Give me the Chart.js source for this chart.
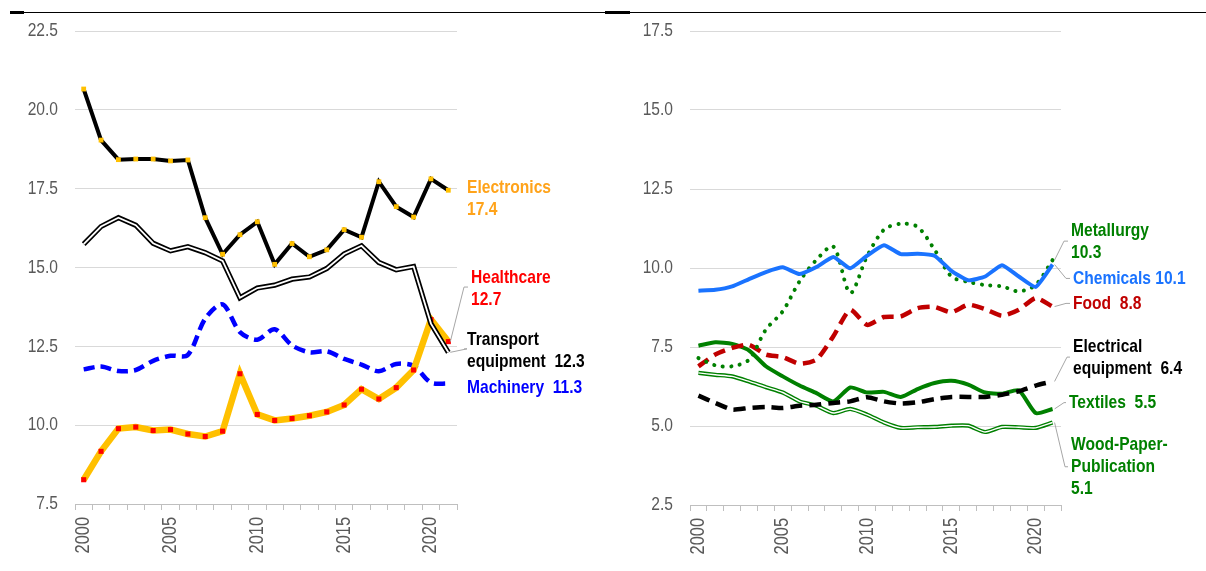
<!DOCTYPE html>
<html>
<head>
<meta charset="utf-8">
<script src="https://cdn.jsdelivr.net/npm/chart.js@4/dist/chart.umd.min.js"></script>
<style>
  html, body { margin: 0; padding: 0; background: #fff; }
  body { width: 1206px; height: 571px; position: relative; overflow: hidden; }
  .panel { position: absolute; top: 0; width: 603px; height: 571px; }
  #left { left: 0; }
  #right { left: 603px; }
  .rule { position: absolute; background: #000; }
</style>
</head>
<body>
<div class="rule" style="left:10px;top:12px;width:1196px;height:1px;"></div>
<div class="rule" style="left:10px;top:11px;width:14px;height:3px;"></div>
<div class="rule" style="left:605px;top:11px;width:25px;height:3px;"></div>
<div class="panel" id="left"><canvas id="leftChart" width="603" height="571"></canvas></div>
<div class="panel" id="right"><canvas id="rightChart" width="603" height="571"></canvas></div>
<script>
const years = ["2000", "2001", "2002", "2003", "2004", "2005", "2006", "2007", "2008", "2009", "2010",
  "2011", "2012", "2013", "2014", "2015", "2016", "2017", "2018", "2019", "2020", "2021"];

// left panel
const electronics = [20.66, 19.04, 18.42, 18.44, 18.44, 18.38, 18.41, 16.58, 15.42, 16.04, 16.45,
  15.10, 15.76, 15.34, 15.56, 16.20, 15.96, 17.72, 16.93, 16.60, 17.81, 17.45];
const transport = [15.74, 16.30, 16.58, 16.34, 15.77, 15.53, 15.66, 15.47, 15.21, 14.04, 14.35,
  14.44, 14.63, 14.70, 14.97, 15.43, 15.69, 15.16, 14.93, 15.03, 13.22, 12.31];
const healthcare = [8.27, 9.17, 9.89, 9.94, 9.83, 9.86, 9.72, 9.64, 9.81, 11.63, 10.34,
  10.15, 10.21, 10.30, 10.42, 10.64, 11.14, 10.83, 11.19, 11.75, 13.35, 12.65];
const machinery = [11.77, 11.86, 11.72, 11.75, 12.04, 12.20, 12.23, 13.38, 13.83, 12.95, 12.71,
  13.04, 12.53, 12.31, 12.34, 12.10, 11.92, 11.71, 11.94, 11.88, 11.35, 11.32];

// right panel
const chemicals = [9.28, 9.31, 9.42, 9.65, 9.87, 10.02, 9.81, 10.03, 10.35, 9.99, 10.39,
  10.72, 10.44, 10.45, 10.39, 9.91, 9.61, 9.73, 10.09, 9.73, 9.40, 10.11];
const metallurgy = [7.15, 6.92, 6.89, 7.10, 8.05, 8.63, 9.58, 10.26, 10.68, 9.21, 10.37,
  11.21, 11.40, 11.30, 10.58, 9.73, 9.56, 9.46, 9.42, 9.26, 9.47, 10.25];
const food = [6.89, 7.26, 7.47, 7.57, 7.26, 7.18, 6.97, 7.10, 7.84, 8.68, 8.20,
  8.45, 8.47, 8.73, 8.77, 8.60, 8.84, 8.70, 8.49, 8.68, 9.05, 8.78];
const textiles = [7.54, 7.65, 7.60, 7.39, 6.89, 6.57, 6.28, 6.04, 5.78, 6.22, 6.06,
  6.08, 5.92, 6.17, 6.36, 6.43, 6.31, 6.06, 6.02, 6.13, 5.41, 5.54];
const electrical = [5.96, 5.73, 5.52, 5.57, 5.60, 5.57, 5.64, 5.67, 5.73, 5.78, 5.91,
  5.78, 5.71, 5.75, 5.85, 5.92, 5.92, 5.92, 5.99, 6.10, 6.28, 6.41];
const woodPaper = [6.68, 6.62, 6.57, 6.41, 6.23, 6.06, 5.78, 5.64, 5.41, 5.54, 5.36,
  5.11, 4.94, 4.96, 4.97, 5.01, 5.01, 4.81, 4.97, 4.96, 4.94, 5.11];

const leftTicks = [7.5, 22.5];
const rightTicks = [2.5, 17.5];

// end labels: y in data units, dx from the plot's right edge; leader = [dx, y] elbow
const leftNotes = [
  { lines: ["Electronics", "17.4"], color: "#FFA31A", at: 17.54, dx: 10 },
  { lines: ["Healthcare", "12.7"], color: "#FF0000", at: 14.69, dx: 14, set: 2, leader: [3, 14.38] },
  { lines: ["Transport", "equipment  12.3"], color: "#000000", at: 12.70, dx: 10, set: 4, leader: [6, 12.42] },
  { lines: ["Machinery  11.3"], color: "#0000FF", at: 11.19, dx: 10 }
];
const rightNotes = [
  { lines: ["Metallurgy", "10.3"], color: "#008000", at: 11.18, dx: 10, set: 1, leader: [-1, 10.85] },
  { lines: ["Chemicals 10.1"], color: "#1A73FF", at: 9.65, dx: 12, set: 0, leader: [1, 9.67] },
  { lines: ["Food  8.8"], color: "#C00000", at: 8.86, dx: 12, set: 2, leader: [1, 8.88] },
  { lines: ["Electrical", "equipment  6.4"], color: "#000000", at: 7.51, dx: 12, set: 4, leader: [2, 7.18] },
  { lines: ["Textiles  5.5"], color: "#008000", at: 5.74, dx: 8, set: 3, leader: [-1, 5.74] },
  { lines: ["Wood-Paper-", "Publication", "5.1"], color: "#008000", at: 4.40, dx: 10, set: 5, leader: [0, 3.71] }
];

const FONT = '"Liberation Sans", Arial, sans-serif';
const SQUEEZE = 0.82; // narrow face look

function narrowText(ctx, text, x, y, align, rot) {
  ctx.save();
  ctx.translate(x, y);
  if (rot) ctx.rotate(rot);
  ctx.scale(SQUEEZE, 1);
  ctx.textAlign = align;
  ctx.textBaseline = "middle";
  ctx.fillText(text, 0, 0);
  ctx.restore();
}

// axis labels drawn with a condensed look
const narrowTicks = {
  id: "narrowTicks",
  afterDraw(chart) {
    const ctx = chart.ctx;
    const xs = chart.scales.x, ys = chart.scales.y;
    ctx.save();
    ctx.fillStyle = "#595959";
    ctx.font = "19px " + FONT;
    ys.ticks.forEach(t => {
      narrowText(ctx, t.value.toFixed(1), chart.chartArea.left - 17, ys.getPixelForValue(t.value), "right");
    });
    ctx.font = "20px " + FONT;
    xs.ticks.forEach((t, i) => {
      const lab = chart.data.labels[i];
      if (Number(lab) % 5 !== 0) return;
      narrowText(ctx, lab, xs.getPixelForTick(i), chart.chartArea.bottom + 13, "right", -Math.PI / 2);
    });
    ctx.restore();
  }
};

const endLabels = {
  id: "endLabels",
  afterDatasetsDraw(chart, args, opts) {
    const ctx = chart.ctx;
    const ys = chart.scales.y;
    const right = chart.chartArea.right;
    ctx.save();
    opts.notes.forEach(n => {
      const y0 = ys.getPixelForValue(n.at);
      const x0 = right + n.dx;
      if (n.leader) {
        const pts = chart.getDatasetMeta(n.set).data;
        const last = pts[pts.length - 1];
        const ex = right + n.leader[0];
        const ey = ys.getPixelForValue(n.leader[1]);
        ctx.strokeStyle = "#A6A6A6";
        ctx.lineWidth = 1;
        ctx.beginPath();
        ctx.moveTo(last.x + 2, last.y);
        ctx.lineTo(ex + 4, ey);
        ctx.lineTo(x0 - 3, ey);
        ctx.stroke();
      }
      ctx.fillStyle = n.color;
      ctx.font = "bold 19px " + FONT;
      n.lines.forEach((t, i) => narrowText(ctx, t, x0, y0 + i * 22, "left"));
    });
    ctx.restore();
  }
};

function baseOptions(range, yWidth, padRight, xHeight, notes) {
  return {
    responsive: false,
    animation: false,
    layout: { padding: { top: 31, right: padRight, left: 0, bottom: 0 } },
    plugins: {
      legend: { display: false },
      tooltip: { enabled: false },
      endLabels: { notes: notes }
    },
    elements: { point: { radius: 0 } },
    scales: {
      x: {
        type: "category",
        offset: true,
        afterFit: s => { s.height = xHeight; },
        grid: { offset: true, drawOnChartArea: false, drawTicks: true, tickLength: 6, color: "#BFBFBF" },
        border: { color: "#BFBFBF" },
        ticks: { display: false, autoSkip: false }
      },
      y: {
        min: range[0], max: range[1],
        afterFit: s => { s.width = yWidth; },
        border: { display: false },
        grid: { color: "#D9D9D9", drawTicks: false },
        ticks: { display: false, stepSize: 2.5 }
      }
    }
  };
}

Chart.register(endLabels, narrowTicks);

new Chart(document.getElementById("leftChart").getContext("2d"), {
  type: "line",
  data: {
    labels: years,
    datasets: [
      { label: "Electronics", data: electronics, borderColor: "#000", borderWidth: 4,
        pointRadius: 3.4, pointStyle: "rect", pointBackgroundColor: "#FFC000", pointBorderWidth: 0, order: 0 },
      { label: "Transport inner", data: transport, borderColor: "#fff", borderWidth: 1.8, order: 1 },
      { label: "Healthcare", data: healthcare, borderColor: "#FFC000", borderWidth: 6.5,
        pointRadius: 3.6, pointStyle: "rect", pointBackgroundColor: "#FF0000", pointBorderWidth: 0, order: 3 },
      { label: "Machinery", data: machinery, borderColor: "#0000FF", borderWidth: 4.5,
        borderDash: [11, 6], tension: 0.3, order: 4 },
      { label: "Transport equipment", data: transport, borderColor: "#000", borderWidth: 5.2, order: 2 }
    ]
  },
  options: baseOptions(leftTicks, 75, 146, 67, leftNotes)
});

new Chart(document.getElementById("rightChart").getContext("2d"), {
  type: "line",
  data: {
    labels: years,
    datasets: [
      { label: "Chemicals", data: chemicals, borderColor: "#1A73FF", borderWidth: 4, tension: 0.15, order: 1 },
      { label: "Metallurgy", data: metallurgy, borderColor: "#008000", borderWidth: 4,
        borderDash: [0.1, 8.5], borderCapStyle: "round", tension: 0.3, order: 2 },
      { label: "Food", data: food, borderColor: "#C00000", borderWidth: 4.5,
        borderDash: [12, 7], tension: 0.2, order: 3 },
      { label: "Textiles", data: textiles, borderColor: "#008000", borderWidth: 4, tension: 0.2, order: 5 },
      { label: "Electrical equipment", data: electrical, borderColor: "#000", borderWidth: 4.5,
        borderDash: [12, 7], tension: 0.2, order: 4 },
      { label: "Wood-Paper-Publication", data: woodPaper, borderColor: "#008000", borderWidth: 4.2, tension: 0.2, order: 7 },
      { label: "Wood inner", data: woodPaper, borderColor: "#fff", borderWidth: 1.4, tension: 0.2, order: 6 }
    ]
  },
  options: baseOptions(rightTicks, 87, 145, 66, rightNotes)
});
</script>
</body>
</html>
